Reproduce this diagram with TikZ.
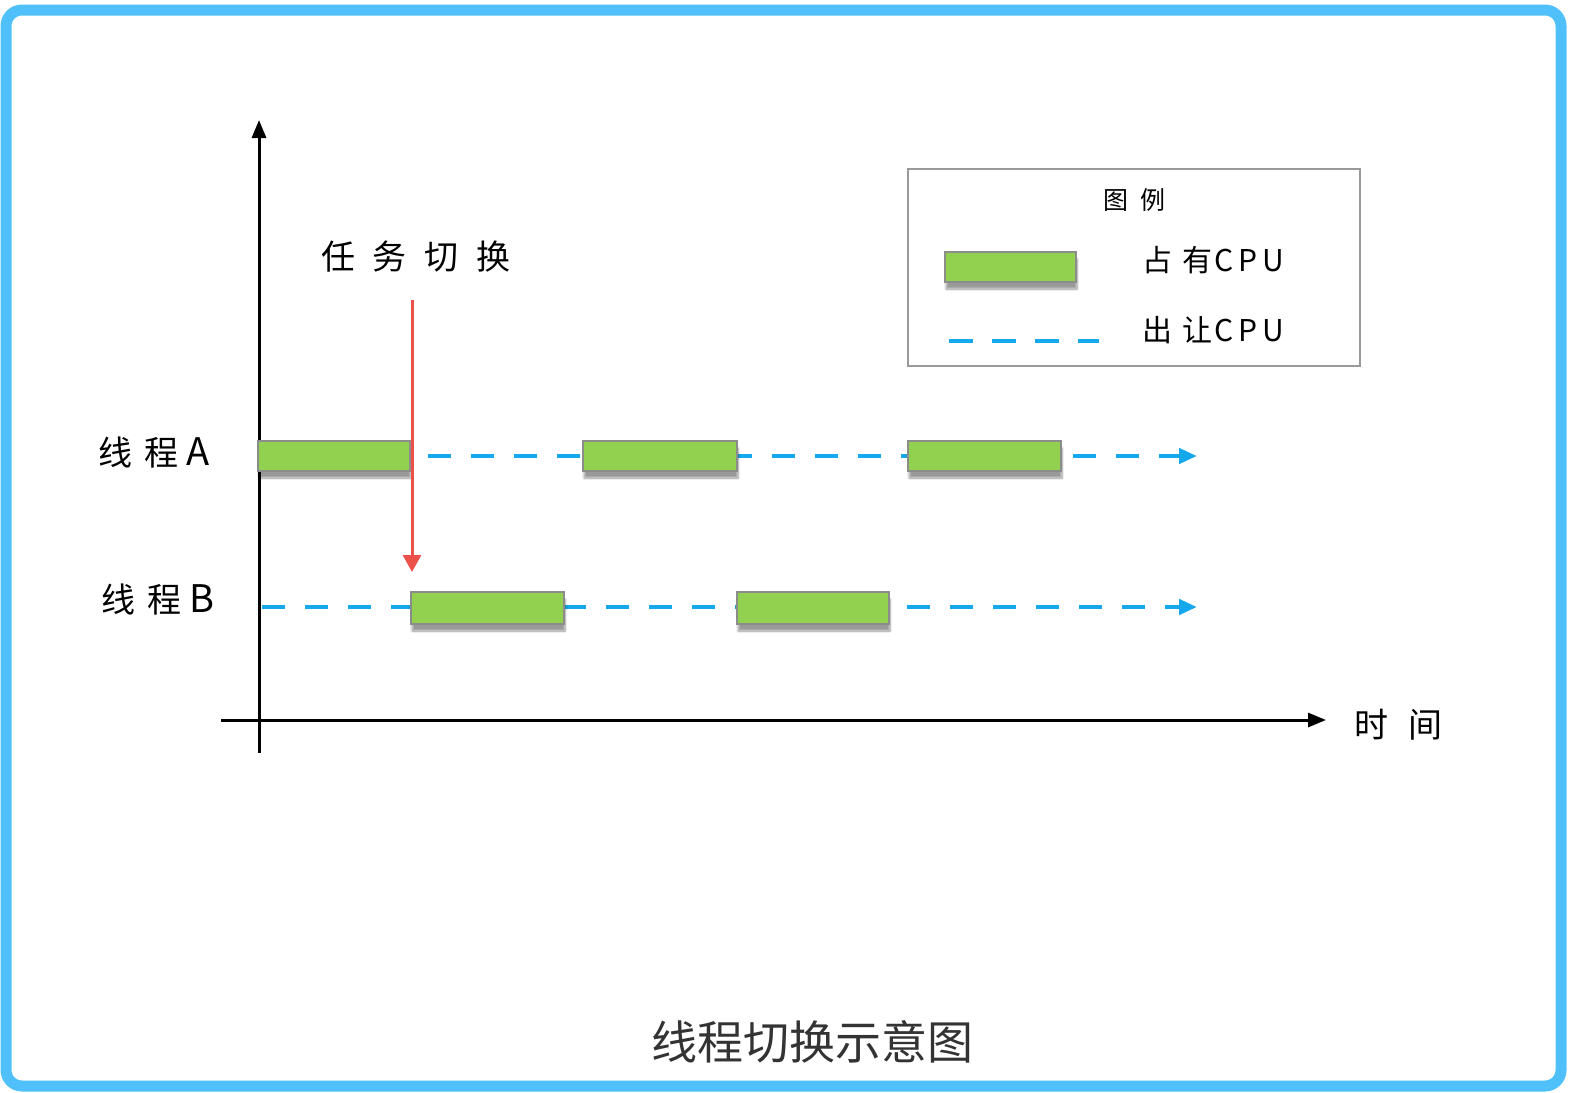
\documentclass[tikz,border=0pt]{standalone}
\usepackage{fontspec}
\setmainfont{Noto Sans CJK SC}
\newfontfamily\cjk{Noto Sans CJK SC}
\usetikzlibrary{arrows.meta,shadows.blur}
\definecolor{frameblue}{RGB}{80,192,250}
\definecolor{dashblue}{RGB}{22,168,236}
\definecolor{cpugreen}{RGB}{146,208,80}
\definecolor{arrowred}{RGB}{235,80,75}
\definecolor{captiongray}{RGB}{51,51,51}
\tikzset{
  cpubar/.style={draw=black!45, line width=1.5pt, fill=cpugreen,
    blur shadow={shadow xshift=1pt, shadow yshift=-7pt, shadow blur steps=8, shadow opacity=40}},
  yieldline/.style={dashblue, line width=4.5pt, dash pattern=on 23pt off 20pt},
  axisline/.style={black, line width=3pt},
  lbl/.style={font=\cjk\fontsize{34}{40}\selectfont, text=black, inner sep=0pt},
  leglbl/.style={font=\cjk\fontsize{30}{36}\selectfont, text=black, inner sep=0pt, anchor=west},
}
\newcommand{\gp}[1]{\hspace{#1pt}}
\begin{document}
\begin{tikzpicture}[x=1pt,y=-1pt]
\useasboundingbox (0,0) rectangle (1570,1092);
% frame
\draw[frameblue, line width=11pt, rounded corners=16pt] (6,10) rectangle (1561,1086);
% axes
\coordinate (yb) at (259,753);
\coordinate (yt) at (259,120);
\coordinate (xl) at (221,720);
\coordinate (xr) at (1326,720);
\draw[axisline, -{Triangle[length=18pt,width=14pt]}] (yb) -- (yt);
\draw[axisline, -{Triangle[length=18pt,width=14pt]}] (xl) -- (xr);
\node[lbl] (time) at (1398,725) {时\gp{20}间};
% labels
\node[lbl] (la) at (154,453) {线\gp{12}程\gp{8}{\fontsize{38}{40}\selectfont A}};
\node[lbl] (lb) at (158,600) {线\gp{12}程\gp{8}{\fontsize{38}{40}\selectfont B}};
% yield lines
\coordinate (as) at (428,456);
\coordinate (ae) at (1197,456);
\coordinate (bs) at (262,607);
\coordinate (be) at (1197,607);
\draw[yieldline, -{Triangle[length=18pt,width=15pt]}] (as) -- (ae);
\draw[yieldline, -{Triangle[length=18pt,width=15pt]}] (bs) -- (be);
% bars
\node[cpubar, minimum width=152pt, minimum height=30pt, inner sep=0pt] (a1) at (334,456) {};
\node[cpubar, minimum width=154pt, minimum height=30pt, inner sep=0pt] (a2) at (660,456) {};
\node[cpubar, minimum width=153pt, minimum height=30pt, inner sep=0pt] (a3) at (984.5,456) {};
\node[cpubar, minimum width=153pt, minimum height=32pt, inner sep=0pt] (b1) at (487.5,608) {};
\node[cpubar, minimum width=152pt, minimum height=32pt, inner sep=0pt] (b2) at (813,608) {};
% switch arrow
\node[lbl] (sw) at (416,257) {任\gp{18}务\gp{18}切\gp{18}换};
\coordinate (rs) at (412,300);
\coordinate (re) at (412,572);
\draw[arrowred, line width=3pt, -{Triangle[length=17pt,width=18pt]}] (rs) -- (re);
% legend
\node[draw=black!40, line width=1.5pt, minimum width=452pt, minimum height=197pt, inner sep=0pt] (leg) at (1134,267.5) {};
\node[lbl, font=\cjk\fontsize{25}{30}\selectfont] (legt) at (1134,200) {图\gp{12}例};
\node[cpubar, minimum width=131pt, minimum height=30pt, inner sep=0pt] (lg) at (1010.5,267) {};
\node[leglbl] (lo) at (1142,260) {占\gp{10}有\gp{2}C\gp{5}P\gp{5}U};
\coordinate (ls) at (949,341);
\coordinate (le) at (1099,341);
\draw[dashblue, line width=4.5pt, dash pattern=on 24pt off 19pt] (ls) -- (le);
\node[leglbl] (ly) at (1142,330) {出\gp{10}让\gp{2}C\gp{5}P\gp{5}U};
% caption
\node[font=\cjk\fontsize{46}{54}\selectfont, text=captiongray, inner sep=0pt] (cap) at (812,1042) {线程切换示意图};
\end{tikzpicture}
\end{document}
